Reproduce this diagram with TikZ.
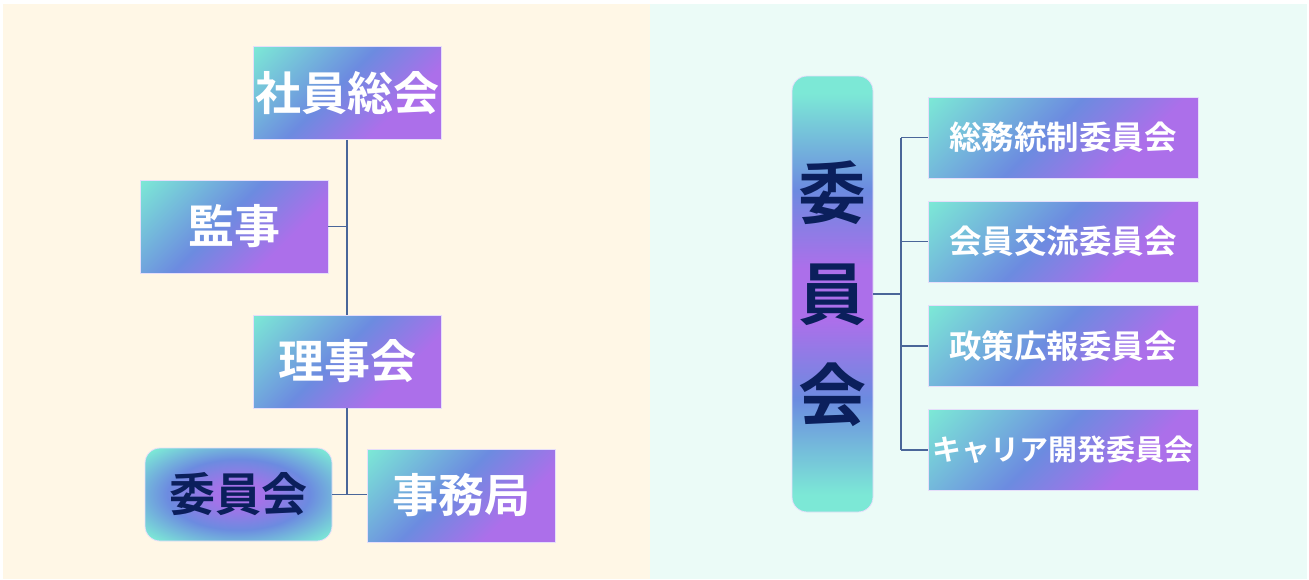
\documentclass[tikz,border=0pt]{standalone}
\usepackage{fontspec}
\newfontfamily\jp{Noto Sans CJK JP}[BoldFont={Noto Sans CJK JP Bold}]
\definecolor{gteal}{HTML}{7CE8D6}
\definecolor{gblue}{HTML}{6C8BE0}
\definecolor{gpurp}{HTML}{AC6FEA}
\definecolor{navy}{HTML}{0B1F5C}
\definecolor{linec}{HTML}{4A6699}
\definecolor{bgleft}{HTML}{FFF7E6}
\definecolor{bgright}{HTML}{EBFBF7}
\definecolor{edgec}{HTML}{E6DEFA}
\pgfdeclareverticalshading{boxgrad}{100bp}{color(0bp)=(gpurp); color(33bp)=(gpurp); color(54bp)=(gblue); color(85bp)=(gteal); color(100bp)=(gteal)}
\pgfdeclareradialshading{roundgrad}{\pgfpoint{0bp}{0bp}}{color(0bp)=(gpurp); color(7bp)=(gpurp!85!gblue); color(19bp)=(gblue); color(33bp)=(gteal); color(50bp)=(gteal)}
\pgfdeclareverticalshading{tallgrad}{100bp}{color(0bp)=(gteal); color(27bp)=(gteal); color(38bp)=(gblue); color(47bp)=(gpurp); color(53bp)=(gpurp); color(62bp)=(gblue); color(73bp)=(gteal); color(100bp)=(gteal)}
\tikzset{
  gbox/.style={shading=boxgrad, shading angle=45, draw=edgec, line width=0.8pt,
    inner sep=0pt, text=white, font=\jp\bfseries\fontsize{46}{50}\selectfont},
  wide/.style={minimum width=188pt, minimum height=93pt},
  cbox/.style={gbox, minimum width=270pt, minimum height=81pt, font=\jp\bfseries\fontsize{32.5}{36}\selectfont},
  conn/.style={draw=linec, line width=1.5pt},
}
\begin{document}
\begin{tikzpicture}[x=1pt, y=-1pt]
\useasboundingbox (0,0) rectangle (1309,579);
\fill[white] (0,0) rectangle (1309,579);
\fill[bgleft] (2.5,4) rectangle (650,579);
\fill[bgright] (650,4) rectangle (1307,579);

% left side
\node[gbox, wide] (shain) at (347,93) {社員総会};
\node[gbox, wide] (kanji) at (234,226.5) {監事};
\node[gbox, wide] (riji) at (347,361.5) {理事会};
\node[shading=roundgrad, draw=edgec, line width=0.8pt, rounded corners=15pt,
  minimum width=187pt, minimum height=93pt, inner sep=0pt, text=navy,
  font=\jp\bfseries\fontsize{46}{50}\selectfont] (iin) at (238.5,494.5) {委員会};
\node[gbox, wide] (jimu) at (461,495.5) {事務局};

\draw[conn] (shain.south) -- (riji.north);
\draw[conn] (kanji.east) -- (kanji.east -| shain.south);
\draw[conn] (riji.south) -- (riji.south |- iin.east);
\draw[conn] (iin.east) -- (iin.east -| jimu.west);

% right side
\node[shading=tallgrad, draw=edgec, line width=0.8pt, rounded corners=15pt,
  minimum width=81pt, minimum height=436pt, inner sep=0pt, text=navy, align=center,
  font=\jp\bfseries\fontsize{68}{101}\selectfont] (tall) at (832.5,294) {委\\員\\会};
\node[cbox] (c1) at (1063,137.5) {総務統制委員会};
\node[cbox] (c2) at (1063,241.5) {会員交流委員会};
\node[cbox] (c3) at (1063,346) {政策広報委員会};
\node[cbox, font=\jp\bfseries\fontsize{29}{33}\selectfont] (c4) at (1063,450) {キャリア開発委員会};

\coordinate (hub) at (901,294);
\draw[conn] (tall.east) -- (hub);
\draw[conn] (hub |- c1.west) -- (hub |- c4.west);
\foreach \c in {c1,c2,c3,c4} {
  \draw[conn] (hub |- \c.west) -- (\c.west);
}
\end{tikzpicture}
\end{document}
